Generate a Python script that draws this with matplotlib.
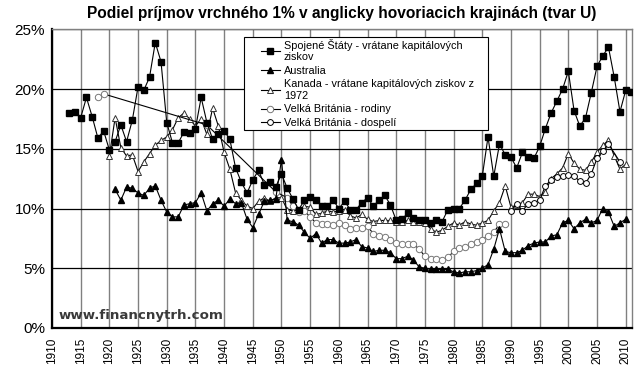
import matplotlib.pyplot as plt
from matplotlib.patches import Rectangle

plt.rcParams['font.family'] = ['Liberation Sans', 'DejaVu Sans']

# --- data (top 1% income share, %) ---
us_years = list(range(1913, 2012))
us_share = [18.0, 18.1, 17.6, 19.3, 17.7, 15.9, 16.5, 14.9, 15.6, 17.0,
            15.6, 17.4, 20.2, 19.9, 21.0, 23.9, 22.3, 17.2, 15.5, 15.5,
            16.4, 16.3, 16.7, 19.3, 17.2, 15.8, 16.2, 16.5, 15.8, 13.4,
            12.2, 11.3, 12.4, 13.2, 12.0, 12.2, 11.8, 12.9, 11.7, 10.8,
            9.9, 10.7, 11.0, 10.7, 10.2, 10.2, 10.7, 10.0, 10.6, 9.9,
            9.9, 10.5, 10.9, 10.2, 10.7, 11.1, 10.3, 9.0, 9.1, 9.6,
            9.2, 9.0, 9.0, 8.8, 9.0, 8.9, 9.9, 10.0, 10.0, 10.7,
            11.6, 12.1, 12.7, 16.0, 12.7, 15.4, 14.5, 14.3, 13.4, 14.7,
            14.3, 14.2, 15.2, 16.7, 18.0, 19.0, 20.0, 21.5, 18.2, 16.9,
            17.6, 19.7, 21.9, 22.8, 23.5, 21.0, 18.1, 19.9, 19.8]

au_years = list(range(1921, 2011))
au_share = [11.6, 10.7, 11.8, 11.7, 11.3, 11.1, 11.7, 11.9, 10.7, 9.7,
            9.3, 9.3, 10.3, 10.4, 10.5, 11.3, 9.8, 10.4, 10.7, 10.2,
            10.8, 10.4, 10.5, 9.1, 8.4, 9.5, 10.6, 10.7, 10.8, 14.1,
            9.0, 8.9, 8.6, 8.0, 7.5, 7.9, 7.1, 7.4, 7.4, 7.1,
            7.1, 7.2, 7.4, 6.8, 6.7, 6.4, 6.5, 6.5, 6.3, 5.8,
            5.8, 6.0, 5.7, 5.1, 5.0, 4.9, 4.9, 4.9, 4.9, 4.7,
            4.6, 4.7, 4.7, 4.8, 5.0, 5.3, 6.6, 8.3, 6.4, 6.3,
            6.3, 6.5, 6.9, 7.1, 7.2, 7.2, 7.7, 7.8, 8.8, 9.0,
            8.3, 8.8, 9.1, 8.8, 9.0, 10.0, 9.7, 8.5, 8.8, 9.1]

ca_years = list(range(1920, 2011))
ca_share = [14.4, 17.6, 15.1, 14.4, 14.5, 13.1, 13.9, 14.6, 15.3, 15.7,
            16.0, 16.6, 17.6, 18.0, 17.5, 16.9, 17.5, 16.2, 18.4, 16.9,
            14.7, 13.3, 11.3, 10.7, 10.2, 10.0, 10.6, 10.9, 10.6, 10.9,
            10.9, 9.9, 9.8, 9.9, 10.2, 10.1, 9.5, 9.6, 9.8, 9.7,
            9.8, 9.9, 9.4, 9.2, 9.5, 9.1, 8.9, 9.0, 9.0, 9.0,
            8.9, 8.9, 9.0, 8.9, 8.9, 8.8, 8.3, 8.0, 8.2, 8.5,
            8.8, 8.6, 8.9, 8.7, 8.6, 8.8, 9.0, 9.8, 10.5, 11.9,
            10.1, 10.3, 10.5, 11.2, 11.2, 11.0, 11.4, 12.5, 12.9, 13.4,
            14.6, 13.8, 13.3, 13.2, 13.9, 14.7, 15.3, 15.7, 14.4, 13.3,
            13.7]

ukf_years = [1918, 1919, 1937, 1949] + list(range(1951, 1990))
ukf_share = [19.3, 19.6, 17.0, 11.4,
             10.9, 10.2, 9.7, 9.8, 9.3, 8.8, 8.7, 8.7, 8.6, 8.8,
             8.6, 8.3, 8.4, 8.4, 8.5, 7.9, 7.7, 7.6, 7.4, 7.1,
             7.0, 7.0, 7.0, 6.6, 6.0, 5.8, 5.8, 5.7, 5.9, 6.4,
             6.7, 6.8, 7.0, 7.2, 7.4, 7.7, 8.0, 8.7, 8.7]

uka_years = list(range(1990, 2008)) + [2009]
uka_share = [9.8, 10.4, 9.8, 10.4, 10.5, 10.7, 11.9, 12.4, 12.6, 12.7,
             12.8, 12.7, 12.3, 12.1, 12.9, 14.2, 14.8, 15.4, 13.9]

labels = ["Spojené Štáty - vrátane kapitálových\nziskov",
          "Australia",
          "Kanada - vrátane kapitálových ziskov z\n1972",
          "Velká Británia - rodiny",
          "Velká Británia - dospelí"]

x_ticks = list(range(1910, 2011, 5))
y_ticks = [0, 5, 10, 15, 20, 25]


def main():
    fig = plt.figure(figsize=(6.42, 3.68), dpi=100)
    ax = fig.add_axes([0.081, 0.109, 0.903, 0.811])

    lw = 0.8
    ax.plot(us_years, us_share, color='black', lw=lw, marker='s', ms=4.6,
            mfc='black', mec='black', label=labels[0], zorder=5)
    ax.plot(au_years, au_share, color='black', lw=lw, marker='^', ms=5,
            mfc='black', mec='black', label=labels[1], zorder=4)
    ax.plot(ca_years, ca_share, color='black', lw=lw, marker='^', ms=5,
            mfc='white', mec='#333333', mew=0.7, label=labels[2], zorder=3)
    ax.plot(ukf_years, ukf_share, color='black', lw=lw, marker='o', ms=4.6,
            mfc='white', mec='#777777', mew=0.7, label=labels[3], zorder=3)
    ax.plot(uka_years, uka_share, color='black', lw=lw, marker='o', ms=4.2,
            mfc='white', mec='black', mew=0.7, label=labels[4], zorder=3)

    ax.set_xlim(1910, 2011.05)
    ax.set_ylim(0, 25)
    ax.set_xticks(x_ticks)
    ax.set_xticklabels([str(y) for y in x_ticks], rotation=90, fontsize=8.5)
    ax.set_yticks(y_ticks)
    ax.set_yticklabels([f"{v}%" for v in y_ticks], fontsize=11)
    ax.tick_params(axis='x', length=0, pad=7)
    ax.tick_params(axis='y', length=0, pad=5)

    # grid: gray verticals, black horizontals
    for xv in x_ticks:
        ax.axvline(xv, color='#808080', lw=1.0, zorder=0)
    for yv in y_ticks[1:]:
        ax.axhline(yv, color='black', lw=0.9, zorder=0)

    for side in ['top', 'right']:
        ax.spines[side].set_color('#808080')
        ax.spines[side].set_linewidth(1.0)
    ax.spines['left'].set_linewidth(1.6)
    ax.spines['bottom'].set_linewidth(1.6)

    ax.set_title("Podiel príjmov vrchného 1% v anglicky hovoriacich krajinách (tvar U)",
                 fontsize=11.2, fontweight='bold', pad=8)

    ax.text(0.011, 0.03, "www.financnytrh.com", transform=ax.transAxes,
            fontsize=9.6, fontweight='bold', color='#3a3a3a',
            family='DejaVu Sans')

    # legend box drawn separately so it matches the reference size
    box = Rectangle((0.331, 0.663), 0.421, 0.312, transform=ax.transAxes,
                    facecolor='white', edgecolor='black', lw=0.8, zorder=6)
    ax.add_patch(box)
    leg = ax.legend(loc='upper left', bbox_to_anchor=(0.345, 0.998),
                    fontsize=7.8, frameon=False, numpoints=1,
                    handlelength=1.8, labelspacing=0.32, borderpad=0.3,
                    handletextpad=0.35)
    leg.set_zorder(7)

    fig.savefig("out.png", dpi=100)


if __name__ == "__main__":
    main()
